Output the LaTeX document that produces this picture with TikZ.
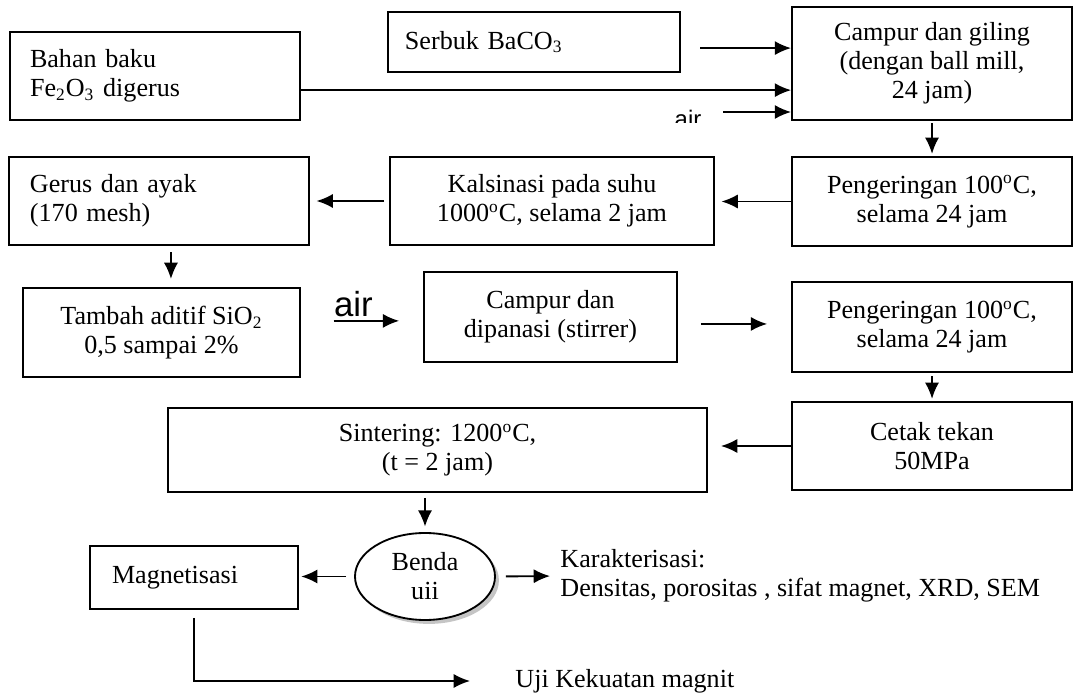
\documentclass[tikz,border=0pt,12pt]{standalone}
\usepackage{fontspec}
\setmainfont{Liberation Serif}
\newfontfamily\sansair{Liberation Sans}
\usetikzlibrary{arrows.meta, shapes.geometric, shadows}

\begin{document}
\begin{tikzpicture}[x=0.46pt,y=-0.46pt,
  boite/.style 2 args={draw, line width=0.85pt, minimum width=#1*0.46pt, minimum height=#2*0.46pt, inner sep=0pt, align=center, font=\fontsize{12}{13.3}\selectfont},
  texte/.style={inner sep=0pt, align=left, font=\fontsize{12}{13.3}\selectfont},
  fleche/.style={->, >={Latex[length=7.5pt,width=6.5pt]}, line width=0.85pt}]
\useasboundingbox (0,0) rectangle (1081,699);

%les boites
\node[boite={290}{88}, align=left, text width=115pt, inner xsep=9.2pt] (bahan) at (155,76) {Bahan baku\\Fe\textsubscript{2}O\textsubscript{3} digerus};
\node[boite={292}{60}, align=left, text width=118.7pt, inner xsep=7.8pt] (serbuk) at (534,42) {Serbuk BaCO\textsubscript{3}};
\node[boite={280}{113}] (campur1) at (932,63.5) {Campur dan giling\\(dengan ball mill,\\24 jam)};

\node[boite={280}{89}] (peng1) at (932,201.5) {Pengeringan 100\textsuperscript{o}C,\\selama 24 jam};
\node[boite={324}{88}] (kalsi) at (552,201) {Kalsinasi pada suhu\\1000\textsuperscript{o}C, selama 2 jam};
\node[boite={300}{88}, align=left, text width=118.7pt, inner xsep=9.7pt] (gerus) at (159,201) {Gerus dan ayak\\(170 mesh)};

\node[boite={277}{89}] (tambah) at (161.5,332.5) {Tambah aditif SiO\textsubscript{2}\\0,5 sampai 2\%};
\node[boite={253}{90}] (campur2) at (550.5,317) {Campur dan\\dipanasi (stirrer)};
\node[boite={280}{90}] (peng2) at (932,327) {Pengeringan 100\textsuperscript{o}C,\\selama 24 jam};

\node[boite={280}{88}] (cetak) at (932,446) {Cetak tekan\\50MPa};
\node[boite={539}{84}] (sinter) at (437.5,450) {Sintering: 1200\textsuperscript{o}C,\\(t = 2 jam)};

\node[ellipse, draw, fill=white, line width=0.85pt, drop shadow={shadow xshift=1.8pt, shadow yshift=-1.8pt, fill=black!45},
      minimum width=140*0.46pt, minimum height=87*0.46pt, inner sep=0pt, align=center,
      font=\fontsize{12}{13.3}\selectfont] (benda) at (425,576.5) {Benda\\uii};
\node[boite={208}{63}, align=left, text width=75.4pt, inner xsep=10pt] (magnet) at (194,577.5) {Magnetisasi};
\node[texte, anchor=west] (karak) at (560,576) {Karakterisasi:\\Densitas, porositas , sifat magnet, XRD, SEM};
\node[texte, anchor=west] (uji) at (515,681) {Uji Kekuatan magnit};

%l'eau en haut
\coordinate (airdeb) at (723,112);
\begin{scope}
\clip (600,95) rectangle (780,123);
\node[inner sep=0pt, anchor=north, font=\sansair\fontsize{11}{12}\selectfont] (air1) at (688,110) {air};
\end{scope}

%les fleches
\draw[fleche, shorten <=9pt] ([yshift=-2.8pt]serbuk.east) -- ([yshift=-2.8pt]serbuk.east -| campur1.west);
\draw[fleche] ([yshift=-6.5pt]bahan.east) -- ([yshift=-6.5pt]bahan.east -| campur1.west);
\draw[fleche] (airdeb) -- (airdeb -| campur1.west);
\draw[fleche, shorten <=1pt, shorten >=1pt] (campur1.south) -- (peng1.north);
\draw[fleche, shorten >=3pt] (peng1.west) -- (peng1.west -| kalsi.east);
\draw[fleche, shorten <=2.3pt, shorten >=3pt] (kalsi.west) -- (kalsi.west -| gerus.east);
\draw[fleche, shorten <=2.8pt, shorten >=3.7pt] ([xshift=5.5pt]gerus.south) -- ([xshift=5.5pt]gerus.south |- tambah.north);
\draw[fleche, shorten <=15pt, shorten >=11pt] ([yshift=-1.8pt]tambah.east |- campur2.west) -- ([yshift=-1.8pt]campur2.west)
  node[pos=0.43, above=1.5pt, inner sep=0pt, font=\sansair\fontsize{16}{18}\selectfont] (air2) {air};
\draw[fleche, shorten <=10.5pt, shorten >=11pt] ([yshift=-3.2pt]campur2.east) -- ([yshift=-3.2pt]campur2.east -| peng2.west);
\draw[fleche, shorten <=1.5pt, shorten >=1pt] (peng2.south) -- (cetak.north);
\draw[fleche, shorten >=6pt] (cetak.west) -- (cetak.west -| sinter.east);
\draw[fleche, shorten <=2.3pt, shorten >=2.5pt] (sinter.south -| benda.north) -- (benda.north);
\draw[fleche, shorten <=3.7pt, shorten >=1pt] (benda.west) -- (benda.west -| magnet.east);
\draw[fleche, shorten <=4.6pt, shorten >=4.6pt] (benda.east) -- (karak.west);
\draw[fleche, shorten <=3.7pt, shorten >=20.7pt] (magnet.south) |- (uji.west);
\end{tikzpicture}
\end{document}
